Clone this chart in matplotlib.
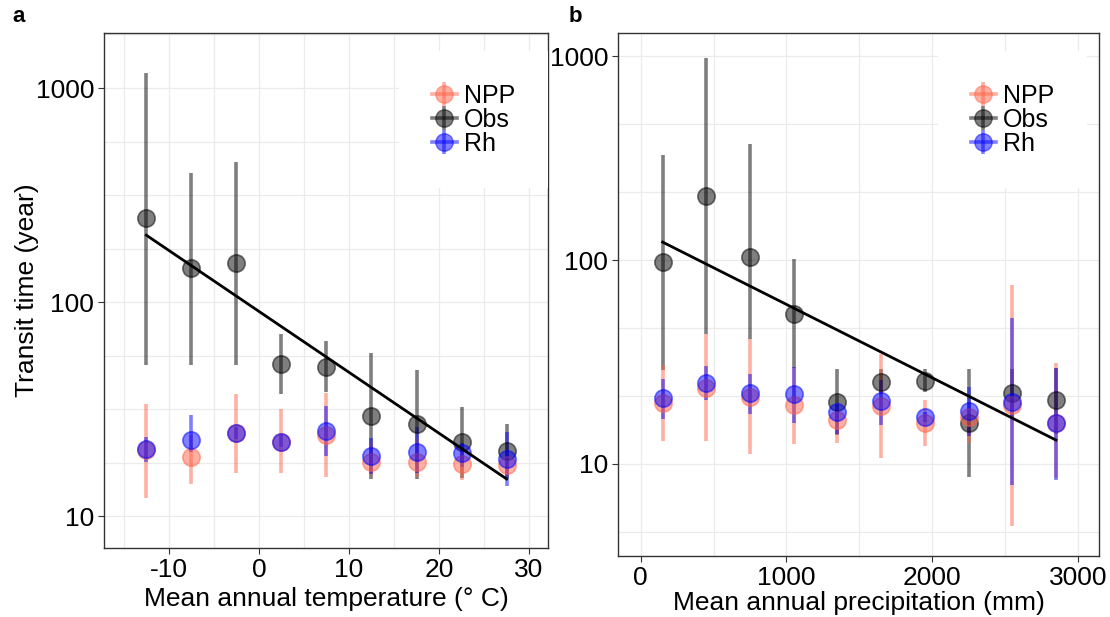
import matplotlib.pyplot as plt
import numpy as np
from matplotlib.lines import Line2D
from matplotlib.legend_handler import HandlerTuple

plt.rcParams["font.family"] = ["Liberation Sans", "DejaVu Sans"]
plt.rcParams["axes.unicode_minus"] = False

# Panel a: mean annual temperature bins
temp = [-12.5, -7.5, -2.5, 2.5, 7.5, 12.5, 17.5, 22.5, 27.5]
obs_t = [247, 144, 152, 51.3, 49.7, 29.3, 26.9, 22.2, 20.1]
obs_t_lo = [51, 51, 51, 37.2, 38, 14.9, 14.9, 15, 15]
obs_t_hi = [1175, 401, 451, 70.8, 65.7, 57.8, 48, 32.3, 26.9]
npp_t = [20.3, 18.9, 24.4, 22.2, 23.9, 17.9, 17.9, 17.6, 17.3]
npp_t_lo = [12.1, 14.1, 15.9, 15.9, 15.2, 15.5, 15.2, 14.8, 15.2]
npp_t_hi = [33.4, 24, 37.2, 31.6, 37.6, 22, 23, 20, 20]
rh_t = [20.5, 22.6, 24.4, 22.2, 25.0, 19.1, 19.9, 19.7, 18.5]
rh_t_lo = [17.9, 20, 23, 21, 19.1, 15.7, 15.9, 17, 13.8]
rh_t_hi = [23.4, 29.6, 26, 24, 32.7, 23.1, 26, 22, 24.7]

# Panel b: mean annual precipitation bins
prec = [150, 450, 750, 1050, 1350, 1650, 1950, 2250, 2550, 2850]
obs_p = [97.8, 206, 103, 54.3, 20.1, 25.2, 25.5, 15.9, 22.3, 20.6]
obs_p_lo = [29, 43.4, 41, 29.6, 13.9, 22, 22.5, 8.6, 17, 14]
obs_p_hi = [327, 977, 371, 101, 29.2, 29.2, 29.2, 29.2, 29.2, 29.6]
npp_p = [19.9, 23.6, 21.3, 19.4, 16.4, 19.2, 15.9, 17.0, 19.4, 15.9]
npp_p_lo = [13.0, 13.0, 11.2, 12.5, 12.7, 10.7, 12.3, 12.7, 4.97, 8.5]
npp_p_hi = [30.5, 43.4, 41, 29.6, 19, 34.6, 20.6, 17.8, 75.3, 31.3]
rh_p = [21.1, 25.0, 22.3, 22.0, 18.0, 20.4, 17.0, 18.2, 20.1, 15.9]
rh_p_lo = [16.6, 20.6, 17.6, 15.9, 14, 15.5, 16, 13.7, 7.9, 8.35]
rh_p_hi = [26.1, 30.2, 27.6, 29.9, 19.5, 25.8, 18, 23.8, 52, 29.6]

series_colors = {"NPP": "tomato", "Obs": "black", "Rh": "blue"}


def draw_series(ax, x, y, lo, hi, color):
    x = np.asarray(x)
    y = np.asarray(y)
    ax.vlines(x, lo, hi, color=color, alpha=0.5, lw=2.6, zorder=3)
    ax.plot(x, y, "o", ms=12.5, color=color, alpha=0.5, mec=color, mew=1.2,
            zorder=4)


def fit_line(ax, x, y):
    x = np.asarray(x, dtype=float)
    k, b = np.polyfit(x, np.log10(y), 1)
    xx = np.array([x.min(), x.max()])
    ax.plot(xx, 10 ** (k * xx + b), color="black", lw=2, zorder=5)


def style_axes(ax, xminor, yminor):
    ax.set_yscale("log")
    ax.set_yticks([10, 100, 1000])
    ax.set_yticklabels(["10", "100", "1000"])
    ax.set_yticks(yminor, minor=True)
    ax.set_xticks(xminor, minor=True)
    ax.yaxis.set_minor_formatter(plt.NullFormatter())
    ax.grid(True, which="both", color="#ebebeb", lw=0.9, zorder=0)
    ax.set_axisbelow(True)
    ax.tick_params(which="major", length=4, width=0.8, color="#333333",
                   labelsize=19, labelcolor="black", pad=3)
    ax.tick_params(which="minor", length=0)
    for s in ax.spines.values():
        s.set_color("#333333")
        s.set_linewidth(1.0)


def add_legend(ax, anchor):
    handles = []
    for name, c in series_colors.items():
        h1 = Line2D([], [], color=c, lw=2.6, marker="o", ms=12.5, alpha=0.5,
                    mec=c)
        h2 = Line2D([], [], color=c, marker="|", ms=17, mew=2.6, ls="none",
                    alpha=0.5)
        handles.append((h1, h2))
    leg = ax.legend(handles, list(series_colors.keys()),
                    handler_map={tuple: HandlerTuple(ndivide=1)},
                    loc="upper right", bbox_to_anchor=anchor,
                    fontsize=18, frameon=True, fancybox=False,
                    handlelength=1.0, handletextpad=0.3, labelspacing=0.0,
                    borderpad=1.3, borderaxespad=0)
    leg.get_frame().set_facecolor("white")
    leg.get_frame().set_edgecolor("none")
    leg.get_frame().set_alpha(1)
    leg.set_zorder(6)


fig = plt.figure(figsize=(11.1, 6.17), dpi=100)
ax1 = fig.add_axes([0.0937, 0.1118, 0.4, 0.8347])
ax2 = fig.add_axes([0.5568, 0.0989, 0.4333, 0.8476])

# Panel a
draw_series(ax1, temp, obs_t, obs_t_lo, obs_t_hi, series_colors["Obs"])
draw_series(ax1, temp, npp_t, npp_t_lo, npp_t_hi, series_colors["NPP"])
draw_series(ax1, temp, rh_t, rh_t_lo, rh_t_hi, series_colors["Rh"])
fit_line(ax1, temp, obs_t)
style_axes(ax1, np.arange(-15, 35, 5), [10 ** (k / 4) for k in range(0, 14) if k % 4])
ax1.set_xlim(-17.2, 32.1)
ax1.set_ylim(7.09, 1807)
ax1.set_xticks([-10, 0, 10, 20, 30])
ax1.set_xlabel("Mean annual temperature (° C)", fontsize=19, labelpad=4)
ax1.set_ylabel("Transit time (year)", fontsize=19, labelpad=-2)
add_legend(ax1, (1.0, 0.965))

# Panel b
draw_series(ax2, prec, obs_p, obs_p_lo, obs_p_hi, series_colors["Obs"])
draw_series(ax2, prec, npp_p, npp_p_lo, npp_p_hi, series_colors["NPP"])
draw_series(ax2, prec, rh_p, rh_p_lo, rh_p_hi, series_colors["Rh"])
fit_line(ax2, prec, obs_p)
style_axes(ax2, np.arange(0, 3500, 500), [10 ** (k / 3) for k in range(0, 11) if k % 3])
ax2.set_xlim(-156, 3146)
ax2.set_ylim(3.54, 1297)
ax2.set_xticks([0, 1000, 2000, 3000])
ax2.set_xlabel("Mean annual precipitation (mm)", fontsize=19, labelpad=1)
add_legend(ax2, (0.975, 0.965))

fig.text(0.011, 0.965, "a", fontsize=16, fontweight="bold")
fig.text(0.512, 0.965, "b", fontsize=16, fontweight="bold")

fig.savefig("out.png", dpi=100)
